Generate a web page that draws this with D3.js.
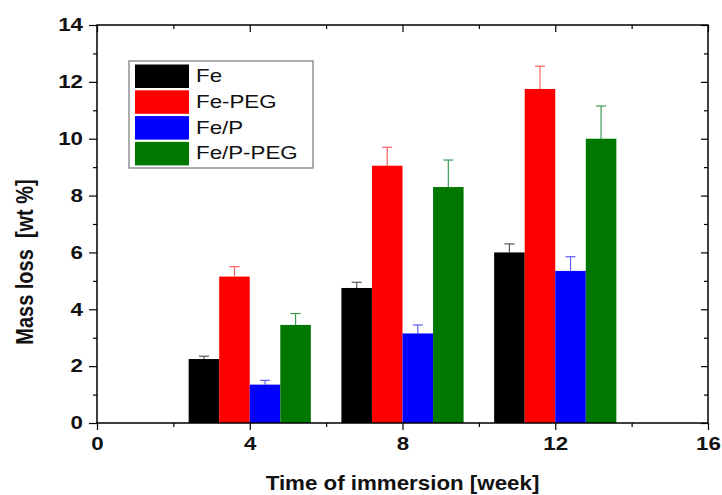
<!DOCTYPE html>
<html>
<head>
<meta charset="utf-8">
<script src="https://cdn.jsdelivr.net/npm/d3@7"></script>
<style>
  body { margin: 0; background: #fff; }
  svg { display: block; font-family: "Liberation Sans", Arial, sans-serif; }
</style>
</head>
<body>
<svg id="chart" width="722" height="495"></svg>
<script>
// Immersion times (weeks) and mass loss per material
const weeks = [4, 8, 12];
const seriesNames = ["Fe", "Fe-PEG", "Fe/P", "Fe/P-PEG"];
const seriesColors = ["#000000", "#ff0000", "#0000ff", "#007800"];
const errColors = ["#555555", "#ff6060", "#6060ff", "#3a9a50"];
const feValues = [2.25, 4.75, 6.0];
const fePegValues = [5.15, 9.05, 11.75];
const fePValues = [1.35, 3.15, 5.35];
const fePPegValues = [3.45, 8.3, 10.0];
const feErr = [0.1, 0.2, 0.3];
const fePegErr = [0.35, 0.65, 0.8];
const fePErr = [0.15, 0.3, 0.5];
const fePPegErr = [0.4, 0.95, 1.15];
const xTicks = [0, 4, 8, 12, 16];
const yTicks = [0, 2, 4, 6, 8, 10, 12, 14];

const values = [feValues, fePegValues, fePValues, fePPegValues];
const errors = [feErr, fePegErr, fePErr, fePPegErr];

// Text is drawn slightly widened
const WIDEN = 1.24;

const svg = d3.select("#chart");
const m = { left: 97, right: 14, top: 25, bottom: 72 };
const W = 722, H = 495;
const x = d3.scaleLinear().domain([0, 16]).range([m.left, W - m.right]);
const y = d3.scaleLinear().domain([0, 14]).range([H - m.bottom, m.top]);

const barW = 0.8; // weeks
const offsets = [-2, -1, 0, 1];

// Bars and error bars
seriesNames.forEach((name, s) => {
  const g = svg.append("g");
  weeks.forEach((w, i) => {
    const x0 = x(w + offsets[s] * barW);
    const x1 = x(w + (offsets[s] + 1) * barW);
    const v = values[s][i];
    const e = errors[s][i];
    const cx = (x0 + x1) / 2;
    g.append("line")
      .attr("x1", cx).attr("x2", cx)
      .attr("y1", y(v)).attr("y2", y(v + e))
      .attr("stroke", errColors[s]).attr("stroke-width", 1.2);
    g.append("line")
      .attr("x1", cx - 5).attr("x2", cx + 5)
      .attr("y1", y(v + e)).attr("y2", y(v + e))
      .attr("stroke", errColors[s]).attr("stroke-width", 1.2);
    g.append("rect")
      .attr("x", x0).attr("width", x1 - x0)
      .attr("y", y(v)).attr("height", y(0) - y(v))
      .attr("fill", seriesColors[s]);
  });
});

// Axes: outward ticks on left/bottom, inward ticks on top/right
const axisStyle = sel => {
  sel.select(".domain").remove();
  sel.selectAll("line").attr("stroke", "#000").attr("stroke-width", 1.2);
};
const minorX = [2, 6, 10, 14];
const minorY = [1, 3, 5, 7, 9, 11, 13];

const bottom = svg.append("g").attr("transform", `translate(0,${y(0)})`)
  .call(d3.axisBottom(x).tickValues(xTicks).tickSize(7).tickPadding(7).tickFormat(d3.format("d")));
axisStyle(bottom);
bottom.selectAll(".tick text").attr("transform", `scale(${WIDEN},1)`);
svg.append("g").attr("transform", `translate(0,${y(0)})`)
  .call(d3.axisBottom(x).tickValues(minorX).tickSize(4).tickFormat(""))
  .call(axisStyle);

const left = svg.append("g").attr("transform", `translate(${x(0)},0)`)
  .call(d3.axisLeft(y).tickValues(yTicks).tickSize(8).tickFormat(d3.format("d")));
axisStyle(left);
left.selectAll(".tick text")
  .attr("x", -14 / WIDEN)
  .attr("transform", `scale(${WIDEN},1)`);
svg.append("g").attr("transform", `translate(${x(0)},0)`)
  .call(d3.axisLeft(y).tickValues(minorY).tickSize(4).tickFormat(""))
  .call(axisStyle);

svg.append("g").attr("transform", `translate(0,${y(14)})`)
  .call(d3.axisBottom(x).tickValues(xTicks).tickSize(7).tickFormat(""))
  .call(axisStyle);
svg.append("g").attr("transform", `translate(0,${y(14)})`)
  .call(d3.axisBottom(x).tickValues(minorX).tickSize(4).tickFormat(""))
  .call(axisStyle);
svg.append("g").attr("transform", `translate(${x(16)},0)`)
  .call(d3.axisLeft(y).tickValues(yTicks).tickSize(7).tickFormat(""))
  .call(axisStyle);
svg.append("g").attr("transform", `translate(${x(16)},0)`)
  .call(d3.axisLeft(y).tickValues(minorY).tickSize(4).tickFormat(""))
  .call(axisStyle);

svg.selectAll(".tick text")
  .attr("font-family", "Liberation Sans, Arial, sans-serif")
  .attr("font-size", 18).attr("font-weight", "bold").attr("fill", "#111");

// Frame
svg.append("rect")
  .attr("x", x(0)).attr("y", y(14))
  .attr("width", x(16) - x(0)).attr("height", y(0) - y(14))
  .attr("fill", "none").attr("stroke", "#000").attr("stroke-width", 1.5);

// Axis titles
svg.append("text")
  .attr("transform", `translate(${(x(0) + x(16)) / 2},490) scale(${WIDEN * 0.9},1)`)
  .attr("text-anchor", "middle")
  .attr("font-size", 20).attr("font-weight", "bold").attr("fill", "#111")
  .text("Time of immersion [week]");
svg.append("text")
  .attr("transform", `translate(33,${(y(0) + y(14)) / 2 + 38}) scale(${WIDEN},1) rotate(-90)`)
  .attr("text-anchor", "middle")
  .attr("font-size", 20).attr("font-weight", "bold").attr("fill", "#111")
  .attr("xml:space", "preserve")
  .text("Mass loss  [wt %]");

// Legend
const lg = svg.append("g").attr("transform", "translate(129,61)");
lg.append("rect").attr("width", 184).attr("height", 107)
  .attr("fill", "#fff").attr("stroke", "#777").attr("stroke-width", 1.2);
seriesNames.forEach((name, s) => {
  lg.append("rect")
    .attr("x", 6).attr("y", 3.5 + s * 25.8).attr("width", 54).attr("height", 23.5)
    .attr("fill", seriesColors[s]);
  lg.append("text")
    .attr("transform", `translate(67,${21 + s * 25.8}) scale(${WIDEN},1)`)
    .attr("font-size", 18).attr("fill", "#111")
    .text(name);
});
</script>
</body>
</html>
